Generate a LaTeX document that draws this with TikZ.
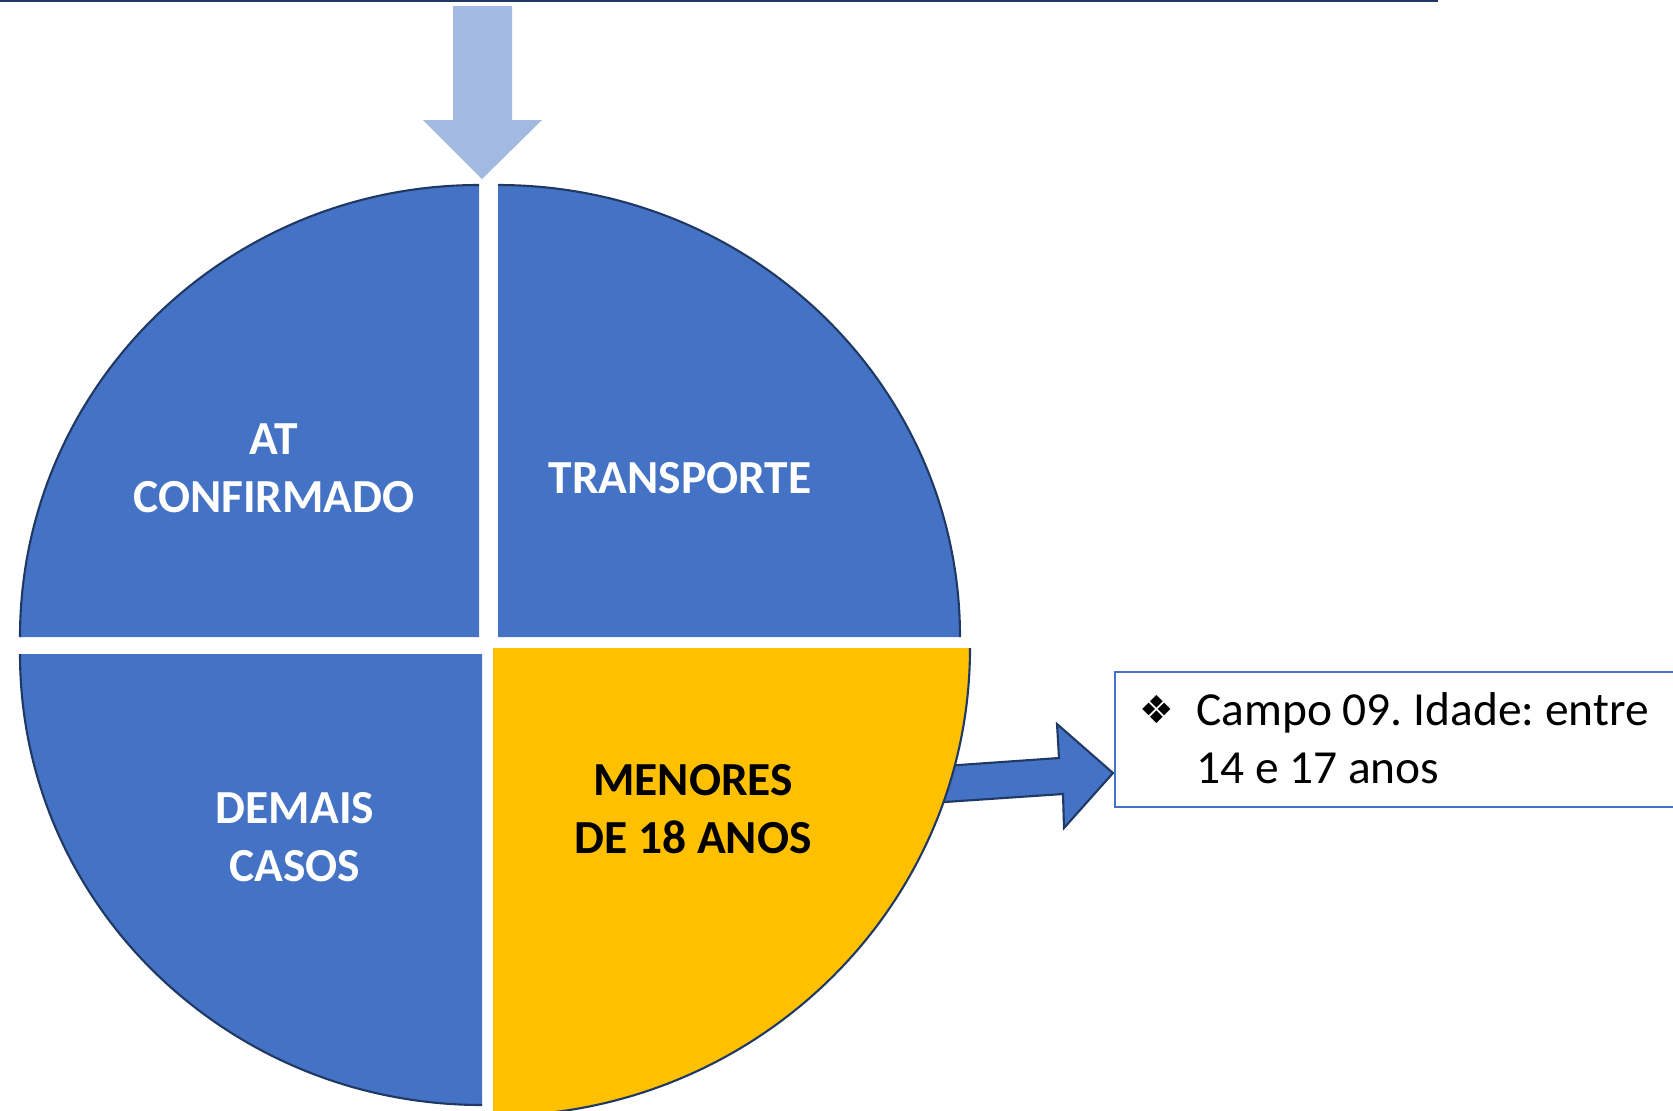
\documentclass[tikz,border=0pt]{standalone}
\usepackage{fontspec}
\setmainfont{Carlito}
\newfontfamily\symfont{DejaVu Sans}
\frenchspacing
\definecolor{quadblue}{HTML}{4472C4}
\definecolor{quadgold}{HTML}{FFC000}
\definecolor{rimnavy}{HTML}{203864}
\definecolor{paleblue}{HTML}{A2B9E1}
\begin{document}
\begin{tikzpicture}[x=0.02cm,y=-0.02cm,
    rim/.style={draw=rimnavy,line width=1.2pt},
    quadtext/.style={font=\bfseries\fontsize{27}{33}\selectfont,align=center,anchor=base,text=white},
    notetext/.style={font=\fontsize{27}{33}\selectfont,align=left,anchor=base west}]
  \useasboundingbox (0,0) rectangle (1673,1110);
  \clip (0,0) rectangle (1673,1110);
  \draw[rimnavy,line width=1.2pt] (0,1) -- (1438,1);
  \fill[paleblue] (453,6) -- (512,6) -- (512,120) -- (542,120) -- (482,179)
    -- (423,120) -- (453,120) -- cycle;
  \draw[rim,fill=quadblue,line join=miter] (930,767) -- (1059,758) -- (1057,724)
    -- (1113,773) -- (1064,828) -- (1063,794) -- (930,803) -- cycle;
  \begin{scope}
    \fill[quadblue] (479,637) -- (20,637) arc[start angle=180,end angle=270,x radius=459,y radius=452] -- cycle;
    \draw[rim] (20,637) arc[start angle=180,end angle=270,x radius=459,y radius=452];
    \fill[quadblue] (498,637) -- (498,185) arc[start angle=270,end angle=360,x radius=462,y radius=452] -- cycle;
    \draw[rim] (498,185) arc[start angle=270,end angle=360,x radius=462,y radius=452];
    \fill[quadblue] (482,654) -- (20,654) arc[start angle=180,end angle=90,x radius=462,y radius=451] -- cycle;
    \draw[rim] (20,654) arc[start angle=180,end angle=90,x radius=462,y radius=451];
    \fill[quadgold] (493,648) -- (970,648) arc[start angle=0,end angle=90,x radius=477,y radius=468] -- cycle;
    \draw[rim] (970,648) arc[start angle=0,end angle=90,x radius=477,y radius=468];
  \end{scope}
  \node[quadtext] (atconf) at (274,512) {AT\\CONFIRMADO};
  \node[quadtext] (transp) at (680,493) {TRANSPORTE};
  \node[quadtext] (demais) at (295,881) {DEMAIS\\CASOS};
  \node[quadtext,text=black] (menores) at (693,853) {MENORES\\DE 18 ANOS};
  \draw[quadblue,line width=1pt] (1115,672) rectangle (1700,807);
  \node[font=\symfont\fontsize{22}{22}\selectfont] (bullet) at (1157,709) {❖};
  \node[notetext] (campo) at (1190,783) {Campo 09. Idade: entre\\14 e 17 anos};
\end{tikzpicture}
\end{document}
